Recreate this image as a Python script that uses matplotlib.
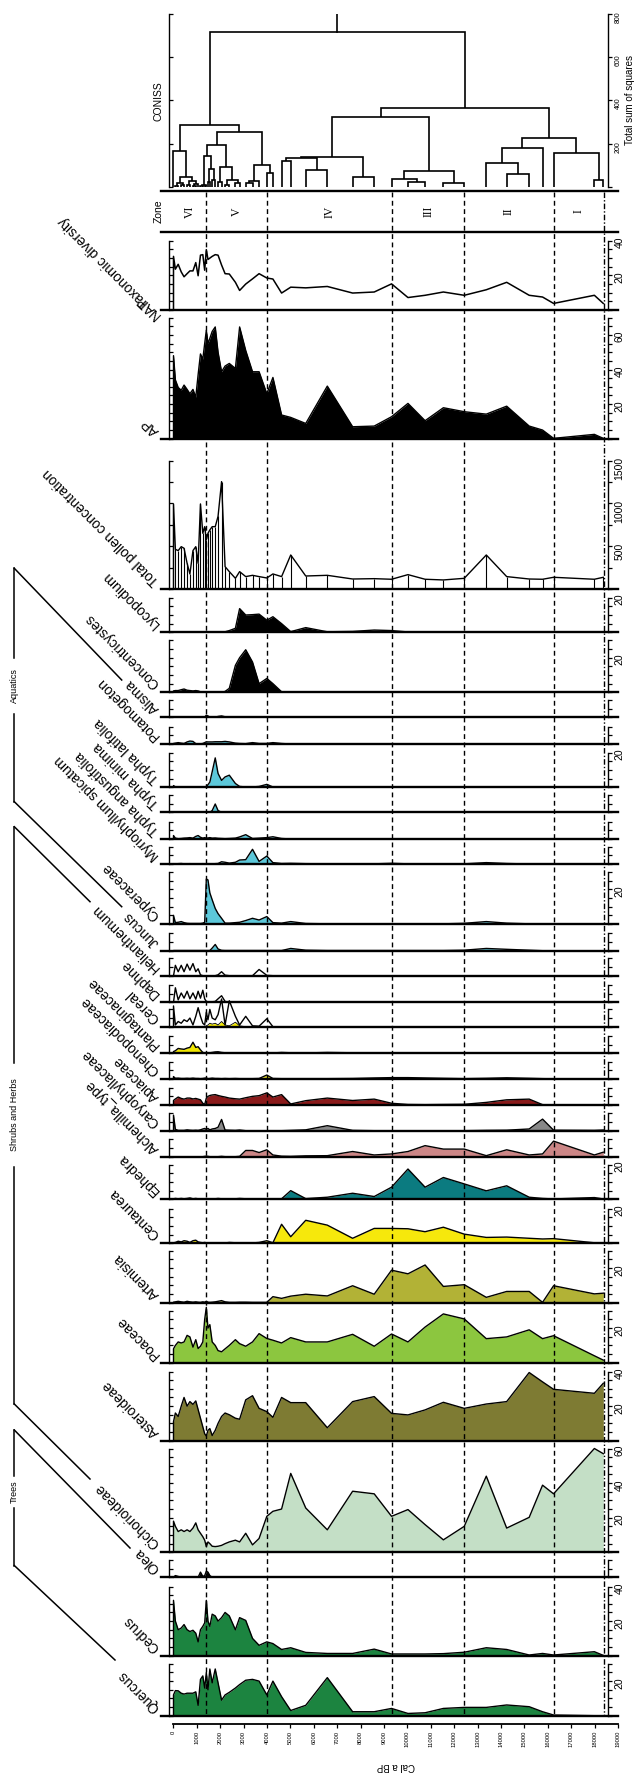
import matplotlib
matplotlib.use("Agg")
import matplotlib.pyplot as plt
from matplotlib.ticker import MultipleLocator, FixedLocator

plt.rcParams['font.family'] = ['Liberation Sans', 'DejaVu Sans']

# ---------------- data ----------------
ages = [0, 80, 200, 330, 450, 580, 700, 830, 950, 1050, 1150, 1250, 1330, 1400, 1470, 1550,
        1650, 1780, 1900, 2050, 2200, 2380, 2640, 2820, 3080, 3370, 3650, 3980, 4240, 4610,
        5000, 5640, 6560, 7640, 8560, 9300, 10000, 10730, 11510, 12400, 13340, 14210, 15170,
        15740, 16210, 17950, 18330]

quercus = [12, 14.5, 14.4, 13, 12.5, 13, 13, 13, 13.8, 6, 21, 23, 16, 25, 15, 27, 19, 27, 19, 9,
           12, 13.5, 16, 18, 20.5, 21, 20, 12, 20, 11, 3, 6, 22, 2.3, 2.3, 4.2, 1.3, 1.7, 4.2, 4.8,
           4.8, 6.2, 5.2, 2.3, 0.4, 0, 0]
cedrus = [32, 20, 15, 16, 18, 15, 14, 14.7, 13, 8, 15, 17, 19, 32, 20, 17, 24, 23, 20, 22,
          25, 23, 15, 22, 20.4, 10, 6, 8, 7, 3.6, 4.6, 1.9, 1.3, 1.3, 3.8, 1, 1, 1, 1.2, 2,
          4.6, 3.6, 0.4, 1.3, 0.4, 2.3, 0.2]
olea = [0, 1, 0.5, 0, 0, 0, 0, 0, 0, 0, 3, 0.5, 1, 3.5, 3, 1, 0, 0, 0, 0,
        0, 0, 0, 0, 0, 0, 0, 0, 0, 0, 0, 0, 0, 0, 0, 0, 0, 0, 0, 0,
        0, 0, 0, 0, 0, 0, 0]
cichorioideae = [18, 15, 12, 13, 12, 13, 12, 14, 17, 13, 11, 9, 7, 3.3, 6, 5, 3.5, 3.3, 3.5, 4,
                 5, 6, 7, 6, 11, 4.3, 8, 20.8, 23.7, 25, 45.6, 25.6, 13, 35.3, 33.8, 20.8, 24.7, 16, 7.2, 15,
                 44, 14, 20.2, 38.8, 33.8, 60, 57]
asteroideae = [11, 16, 14, 20, 25, 20, 22.6, 21, 23, 18, 13, 8, 4, 2.7, 6, 7, 3, 6, 10, 14,
               16, 15, 13, 12.4, 23.6, 26, 18.7, 16.8, 13.5, 25, 22, 22, 7.5, 22.6, 25.5, 15.8, 14.9, 17.8, 22.2, 18.7,
               21.2, 22.6, 39.4, 34, 29.7, 27.4, 33.2]
poaceae = [8, 10, 12, 11.4, 12, 15.8, 14.9, 9, 13.3, 8.2, 9.5, 12, 25, 32, 20, 22, 12, 10, 7, 6.3,
           8, 10, 13.3, 11, 9.5, 12, 16.8, 14, 13, 11.4, 14.5, 12, 12, 16.4, 9.5, 16.6, 12, 20.6, 28.2, 25.3,
           13.9, 14.9, 19, 13.9, 15.6, 4, 1.5]
artemisia = [0.3, 0.5, 0.8, 0.5, 0.3, 0.8, 0.5, 0.3, 0.5, 0.3, 0.2, 0.5, 0.3, 0.8, 0.3, 0.2, 0.3, 0.5, 0.8, 1.2,
             0.5, 0.2, 0.2, 0.3, 0.3, 0.2, 0.2, 0.2, 3.5, 2.5, 3.8, 4.9, 3.9, 9.8, 4.9, 18.8, 16.7, 21.8, 9.4, 10.4,
             3.1, 6.5, 6.5, 0.2, 9.8, 5.1, 5.5]
centaurea = [0.3, 0.5, 1.2, 0.8, 1.5, 1.2, 0.5, 1.5, 1.8, 0.8, 0.5, 0.3, 0.5, 0.3, 0.3, 0.2, 0.2, 0.3, 0.2, 0.3,
             0.2, 0.5, 0.3, 0.2, 0.2, 0.2, 0.5, 1.5, 0.3, 11, 3.8, 13.3, 10.5, 2.9, 8.6, 8.6, 8.4, 6.7, 9.3, 5.3,
             3.4, 3.6, 2.9, 2.5, 2.7, 0.3, 0]
ephedra = [0.3, 0.5, 0.3, 0.5, 0.3, 0.5, 0.8, 0.3, 0.5, 0.3, 0.2, 0.3, 0.2, 0.5, 0.3, 0.2, 0.3, 0.3, 0.5, 0.3,
           0.2, 0.3, 0.3, 0.5, 0.3, 0.2, 0.3, 0.3, 0.2, 0.3, 5, 0.4, 1.2, 3.5, 1.6, 7, 17.5, 7, 12.6, 8.9,
           4.9, 7.8, 1.2, 0.5, 0.2, 1, 0.2]
alchemilla = [0, 0, 0, 0, 0, 0, 0, 0, 0, 0, 0, 0, 0.2, 0.3, 0.2, 0, 0, 0, 0, 0.2,
              0, 0, 0, 0.2, 3.6, 3.6, 2.4, 4, 1, 0.3, 0.2, 0.5, 0.6, 3, 1, 1.6, 3, 6.4, 4.4, 4.4,
              0.6, 4, 1, 1.6, 9, 1, 2.6]
caryophyllaceae = [9, 0.8, 0.2, 0.2, 0.2, 0.5, 0.3, 0.2, 0.3, 0.2, 0.5, 1, 1.3, 0.8, 1.3, 0.5, 1, 1.3, 2, 6.5,
                   0.4, 0.3, 0.2, 0.4, 0, 0, 0, 0, 0, 0, 0.2, 0.5, 2.9, 0.2, 0, 0, 0, 0, 0, 0,
                   0.2, 0.3, 1, 6.7, 0.3, 0.2, 0.4]
apiaceae = [2.6, 3.5, 4.6, 3.8, 3.4, 4, 4, 3.5, 3.8, 3.4, 3, 1, 0.3, 4, 5, 5.5, 5.8, 6, 5.5, 5,
            4.6, 4, 3.6, 3.4, 4.2, 5, 5.4, 7, 4.6, 6, 0.6, 2.5, 4, 2.6, 3.4, 1, 0.3, 0.2, 0.3, 0.4,
            1.5, 3, 3.4, 0.2, 0, 0, 0.2]
chenopodiaceae = [1.4, 0.4, 0.5, 0.3, 0.3, 0.4, 0.3, 0.5, 0.3, 0.3, 0.2, 0.3, 0.5, 0.6, 0.2, 0.3, 0.5, 0.3, 0.3, 0.2,
                  0.3, 0.2, 0.3, 0.2, 0.2, 0.2, 0.3, 2.3, 0.3, 0.2, 0.2, 0.2, 0.2, 0.3, 0.6, 0.8, 0.8, 0.6, 0.4, 0.2,
                  0.4, 0.7, 0.4, 0.2, 0.1, 0.1, 0.1]
plantaginaceae = [1, 1.5, 2.8, 2.5, 2.3, 3, 3.4, 6.4, 3.4, 3.8, 2, 0.5, 0.2, 0.2, 0.3, 0.3, 0.5, 0.8, 0.9, 0.5,
                  0.3, 0.2, 0.2, 0.2, 0.2, 0.1, 0.1, 0.1, 0.2, 0.5, 0.3, 0.2, 0.5, 0.3, 0.2, 0.1, 0.1, 0.1, 0.1, 0.1,
                  0.1, 0.1, 0.1, 0.1, 0.1, 0.1, 0.1]
cereal = [12, 1, 3, 2, 4, 3, 5, 1, 6, 11, 6, 2, 1, 8.4, 4, 10, 5, 4, 7, 16,
          1, 15, 6, 1, 6, 0.5, 0.3, 4.6, 0, 0, 0, 0, 0, 0, 0, 0, 0, 0, 0, 0,
          0, 0, 0, 0, 0, 0, 0]
cereal_yellow = [0, 0, 0, 0, 0, 0, 0, 0, 0, 0, 0, 0, 0, 0.5, 1, 2, 1.5, 2, 1, 3,
                 1, 0.5, 2.6, 0.5, 0, 0, 0, 0, 0, 0, 0, 0, 0, 0, 0, 0, 0, 0, 0, 0,
                 0, 0, 0, 0, 0, 0, 0]
daphne = [0, 8.4, 1.4, 5.4, 2.4, 6.4, 2, 5.4, 1.8, 6.4, 2.4, 7, 2, 0.5, 0.3, 0.2, 0.3, 0.5, 2, 3.8,
          0.5, 0, 0, 0, 0, 0, 0, 0, 0, 0, 0, 0, 0, 0, 0, 0, 0, 0, 0, 0,
          0, 0, 0, 0, 0, 0, 0]
helianthemum = [0, 6, 2.3, 6, 2.3, 6.7, 3.2, 7, 2.3, 4, 0.5, 0, 0, 0, 0, 0, 0, 0, 0.5, 2.3,
                0.3, 0, 0, 0, 0, 0, 3.6, 0.2, 0, 0, 0, 0, 0, 0, 0, 0, 0, 0, 0, 0,
                0, 0, 0, 0, 0, 0, 0]
juncus = [0.1, 0.1, 0.1, 0.1, 0.1, 0.1, 0.1, 0.1, 0.1, 0.1, 0.1, 0.1, 0.1, 0.1, 0.1, 0.1, 1.5, 3.6, 1, 0.2,
          0.1, 0.1, 0.1, 0.1, 0.1, 0.1, 0.1, 0.1, 0.1, 0.1, 1.3, 0.3, 0.1, 0.1, 0.1, 0.1, 0.1, 0.1, 0.1, 0.3,
          1.3, 0.8, 0.3, 0, 0, 0, 0]
cyperaceae = [5, 0.8, 1, 1.4, 0.8, 0.4, 0.3, 0.3, 0.3, 0.3, 0.3, 0.5, 1, 26, 25.5, 18, 14, 9, 6, 3.3,
              0.5, 0.5, 0.8, 1, 2, 3.3, 2.3, 4.3, 0.8, 0.5, 1.4, 0.3, 0.1, 0.1, 0.1, 0.1, 0.1, 0.1, 0.1, 0.4,
              1.4, 0.5, 0.1, 0.1, 0.1, 0.1, 0.1]
myriophyllum = [0.2, 0.1, 0.2, 0.3, 0.1, 0.1, 0.2, 0.1, 0.1, 0.1, 0.1, 0.2, 0.1, 0.1, 0.2, 0.1, 0.1, 0.2, 0.3, 1.3,
                1, 0.5, 1, 2.3, 2.5, 8.5, 1.5, 4.6, 0.8, 0.3, 0.4, 0.2, 0.1, 0.1, 0.1, 0.4, 0.1, 0.1, 0.1, 0.1,
                0.8, 0.3, 0, 0, 0, 0, 0]
typha_angustifolia = [2, 0.5, 0.2, 0.3, 0.5, 0.6, 0.8, 0.5, 1.5, 2, 1, 0.5, 0.8, 0.5, 0.6, 0.8, 0.5, 0.6, 0.4, 0.3,
                      0.2, 0.3, 0.5, 1.2, 2.5, 0.3, 0.5, 0.8, 1.3, 0.3, 0, 0, 0, 0, 0, 0, 0, 0, 0, 0,
                      0, 0, 0, 0, 0, 0, 0]
typha_minima = [0, 0, 0, 0, 0, 0, 0, 0, 0, 0, 0, 0, 0, 0, 0, 0, 1, 4.8, 1, 0,
                0, 0, 0, 0, 0, 0, 0, 0, 0, 0, 0, 0, 0, 0, 0, 0, 0, 0, 0, 0,
                0, 0, 0, 0, 0, 0, 0]
typha_latifolia = [1, 0.2, 0.1, 0.1, 0.1, 0.1, 0.1, 0.1, 0.1, 0.1, 0.1, 0.1, 0.2, 0.5, 1.5, 3, 9, 17, 8, 4,
                   6, 7, 2.2, 0.5, 0.2, 0.2, 0.5, 1.7, 0.2, 0, 0, 0, 0, 0, 0, 0, 0, 0, 0, 0,
                   0, 0, 0, 0, 0, 0, 0]
potamogeton = [0.3, 0.5, 0.8, 0.5, 0.3, 1.2, 1.7, 1.5, 0.2, 0.1, 0.1, 0.3, 0.8, 1.3, 1.2, 1.2, 1.2, 1.3, 1.3, 1.3,
               1.5, 1.2, 0.5, 0.3, 0.2, 0.8, 0.3, 0.3, 0.8, 0.3, 0, 0, 0, 0, 0, 0, 0, 0, 0, 0,
               0, 0, 0, 0, 0, 0, 0]
alisma = [0, 0, 0, 0, 0, 0, 0, 0, 0, 0, 0, 0, 0, 1.3, 0.8, 0, 0, 0, 0.5, 0.8,
          0.3, 0, 0, 0, 0, 0, 0, 0, 0, 0, 0, 0, 0, 0, 0, 0, 0, 0, 0, 0,
          0, 0, 0, 0, 0, 0, 0]
concentricystes = [0.8, 1, 1, 1.5, 1.9, 1.2, 1, 0.8, 1, 0.8, 0.3, 0, 0, 0, 0, 0, 0, 0, 0, 0,
                   0.5, 2.3, 15.6, 20, 24.6, 17.5, 5, 8, 5, 0.3, 0, 0, 0, 0, 0, 0, 0, 0, 0, 0,
                   0, 0, 0, 0, 0, 0, 0]
lycopodium = [0, 0, 0, 0, 0, 0, 0, 0, 0, 0, 0, 0, 0, 0, 0, 0, 0, 0, 0, 0,
              0.3, 1, 2.3, 13.7, 10, 10.2, 10.5, 7, 9, 5, 0.4, 2.7, 0.3, 0.5, 1.3, 1, 0.2, 0, 0, 0,
              0, 0, 0, 0, 0, 0, 0]
total_pollen = [995, 466, 451, 497, 478, 303, 179, 451, 497, 303, 995, 653, 730, 575, 653, 692, 730, 730, 850, 1255,
                264, 206, 128, 206, 148, 163, 148, 132, 179, 148, 400, 155, 163, 120, 124, 117, 171, 117, 109, 128,
                400, 148, 120, 117, 140, 117, 140]
ap = [48, 34, 29.6, 28, 31, 28.5, 26, 28.5, 24, 37, 49, 46, 55, 62.7, 55, 58, 62, 64.6, 50, 38.7,
      42, 43.5, 40.6, 64.6, 51, 38.7, 38.7, 26, 35.4, 13.7, 12.3, 8.8, 30.4, 6.9, 7.3, 12.7, 20.4, 10.4, 17.9, 15.6,
      14.2, 18.8, 7.3, 5, 0.2, 2.5, 0.2]
diversity = [31, 23.6, 26.4, 22, 19.2, 21, 22.6, 22.6, 27.4, 19.8, 31.7, 32, 23, 34.9, 29.2, 30, 31, 32, 31.7, 26,
             21, 20.8, 16, 11.3, 15, 18, 21, 18.5, 17.9, 9.8, 13.2, 12.8, 13.6, 9.8, 10.4, 15.1, 7.2, 8.5, 10.4, 8.5,
             11.7, 16, 8.5, 7.5, 3.8, 8.5, 3.8]

zone_bounds = [1392, 3985, 9309, 12406, 16217, 18340]
zone_names = ['VI', 'V', 'IV', 'III', 'II', 'I']
zone_label_ages = [700, 2690, 6650, 10860, 14310, 17280]

# CONISS merges: (child a, child b, total sum of squares); leaves 0..46, new nodes from 47
coniss_merges = [
    (1, 2, 5), (3, 4, 8), (47, 48, 15), (5, 6, 10), (7, 8, 5), (51, 9, 12), (50, 52, 25),
    (49, 53, 46), (0, 54, 167), (10, 11, 5), (12, 13, 5), (56, 57, 10), (14, 15, 20),
    (16, 17, 30), (59, 60, 80), (58, 61, 144), (18, 19, 20), (20, 21, 10), (22, 23, 15),
    (64, 65, 30), (63, 66, 90), (62, 67, 191), (24, 25, 15), (69, 26, 25), (27, 28, 62),
    (70, 71, 100), (68, 72, 255), (55, 73, 286), (29, 30, 120), (31, 32, 77), (75, 76, 131),
    (33, 34, 46), (77, 78, 136), (36, 37, 20), (35, 80, 37), (38, 39, 18), (81, 82, 71),
    (79, 83, 324), (45, 46, 31), (44, 85, 154), (41, 42, 59), (40, 87, 111), (88, 43, 178),
    (89, 86, 224), (84, 90, 363), (74, 91, 715),
]

# ---------------- layout ----------------
W, H = 639, 1775
fig = plt.figure(figsize=(W / 100, H / 100), dpi=100)

PX0 = 173.5       # pixel column of age 0
PXY = 0.023447    # pixels per year


def age_at(px):
    return (px - PX0) / PXY


PL, PR = 161.0, 618.0
XLIM = (age_at(PL), age_at(PR))
LAX = age_at(169.4)
RAX = age_at(608.2)
SC = 1.73   # pixels per percent

GREEN = '#1c8440'
CYAN = '#5cc8da'

# (label, values, fill colour, ymax, baseline px)
panels = [
    ('Quercus', quercus, GREEN, 30, 1715.7),
    ('Cedrus', cedrus, GREEN, 40, 1655.7),
    ('Olea', olea, 'black', 10, 1577.3),
    ('Cichorioideae', cichorioideae, '#c4dfc6', 60, 1552.3),
    ('Asteroideae', asteroideae, '#7e7b33', 40, 1440.7),
    ('Poaceae', poaceae, '#8cc63f', 30, 1362.7),
    ('Artemisia', artemisia, '#b2b236', 30, 1302.7),
    ('Centaurea', centaurea, '#f6e80c', 20, 1243.3),
    ('Ephedra', ephedra, '#0b7b80', 20, 1199.3),
    ('Alchemilla_type', alchemilla, '#cc8686', 10, 1156.7),
    ('Caryophyllaceae', caryophyllaceae, '#888888', 10, 1130.7),
    ('Apiaceae', apiaceae, '#8a1a1a', 10, 1105.0),
    ('Chenopodiaceae', chenopodiaceae, '#e8e020', 10, 1079.0),
    ('Plantaginaceae', plantaginaceae, '#f0e600', 10, 1053.3),
    ('Cereal', cereal, None, 10, 1026.7),
    ('Daphne', daphne, None, 10, 1002.3),
    ('Helianthemum', helianthemum, None, 10, 975.7),
    ('Juncus', juncus, CYAN, 10, 950.7),
    ('Cyperaceae', cyperaceae, CYAN, 30, 924.0),
    ('Myriophyllum spicatum', myriophyllum, CYAN, 10, 864.0),
    ('Typha angustifolia', typha_angustifolia, CYAN, 10, 839.0),
    ('Typha minima', typha_minima, CYAN, 10, 812.3),
    ('Typha latifolia', typha_latifolia, CYAN, 20, 787.3),
    ('Potamogeton', potamogeton, CYAN, 10, 744.0),
    ('Alisma', alisma, 'black', 10, 717.3),
    ('Concentricystes', concentricystes, 'black', 30, 692.3),
    ('Lycopodium', lycopodium, 'black', 20, 632.3),
]


def add_axes_px(top, bottom, left=PL, right=PR):
    return fig.add_axes([left / W, 1 - bottom / H, (right - left) / W, (bottom - top) / H])


def px_text(x, y, s, **kw):
    return fig.text(x / W, 1 - y / H, s, **kw)


def make_panel(base, ymax, height, step, labels, lsize=7.5, bottom=True):
    ax = add_axes_px(base - height, base)
    ax.set_xlim(*XLIM)
    ax.set_ylim(0, ymax)
    ax.patch.set_alpha(0)
    for s in ('top', 'right'):
        ax.spines[s].set_visible(False)
    ax.spines['bottom'].set_visible(bottom)
    ax.spines['bottom'].set_linewidth(1.7)
    ax.spines['left'].set_position(('data', LAX))
    ax.spines['left'].set_bounds(0, ymax)
    ax.spines['left'].set_linewidth(1.0)
    ax.set_xticks([])
    ax.yaxis.set_major_locator(MultipleLocator(step))
    ax.tick_params(axis='y', direction='in', length=3, width=0.9, labelleft=False)
    ax2 = ax.twinx()
    ax2.set_ylim(0, ymax)
    for s in ('top', 'left', 'bottom'):
        ax2.spines[s].set_visible(False)
    ax2.spines['right'].set_position(('data', RAX))
    ax2.spines['right'].set_bounds(0, ymax)
    ax2.spines['right'].set_linewidth(1.0)
    ax2.yaxis.set_major_locator(FixedLocator(labels))
    ax2.yaxis.set_minor_locator(MultipleLocator(step))
    ax2.tick_params(axis='y', which='both', direction='out', length=3, width=0.9,
                    labelsize=lsize, pad=1.5, labelrotation=90)
    return ax


def taxon_label(name, base):
    px_text(160, base - 9, name, rotation=135, rotation_mode='anchor',
            ha='left', va='baseline', fontsize=10)


# percentage panels
for name, vals, col, ymax, base in panels:
    labs = [v for v in (20, 40, 60) if v <= ymax]
    ax = make_panel(base, ymax, ymax * SC, 5, labs)
    xs = [0] + ages
    ys = [0] + vals
    if col is not None:
        ax.fill_between(ages, vals, color=col, lw=0, clip_on=False, zorder=2)
    if name == 'Cereal':
        ax.fill_between(ages, cereal_yellow, color='#f0e600', lw=0, clip_on=False, zorder=2)
        ax.plot(xs, [0] + cereal_yellow, color='k', lw=0.6, clip_on=False, zorder=3)
    ax.plot(xs, ys, color='k', lw=1.0, clip_on=False, zorder=3)
    taxon_label(name, base)

# total pollen concentration
tp_base = 589.3
ax = make_panel(tp_base, 1500, 128.7, 250, [500, 1000, 1500])
ax.vlines(ages, 0, total_pollen, color='k', lw=0.8, zorder=2)
ax.plot([0] + ages, [0] + total_pollen, color='k', lw=1.0, zorder=3, clip_on=False)
taxon_label('Total pollen concentration', tp_base)

# AP
ap_base = 438.7
ax = make_panel(ap_base, 70, 70 * SC, 5, [20, 40, 60])
ax.fill_between(ages, ap, color='black', lw=0)
ax.plot([0] + ages, [0] + ap, color='k', lw=1.0)
taxon_label('AP', ap_base)

# taxonomic diversity
dv_base = 310.0
ax = make_panel(dv_base, 40, 40 * SC, 5, [20, 40])
ax.plot([0] + ages, [0] + diversity, color='k', lw=1.1, clip_on=False)
px_text(161, dv_base + 4, 'NAP', rotation=135, rotation_mode='anchor', ha='left',
        va='baseline', fontsize=10)
px_text(150, dv_base - 8, 'Taxonomic diversity', rotation=135, rotation_mode='anchor',
        ha='left', va='baseline', fontsize=10)

# zone band
zax = add_axes_px(190.7, 232.3)
zax.set_xlim(*XLIM)
zax.set_ylim(0, 1)
zax.patch.set_alpha(0)
for s in ('left', 'right'):
    zax.spines[s].set_visible(False)
for s in ('top', 'bottom'):
    zax.spines[s].set_linewidth(1.7)
zax.set_xticks([])
zax.set_yticks([])
for a, nm in zip(zone_label_ages, zone_names):
    zax.text(a, 0.5, nm, rotation=90, ha='center', va='center', fontsize=8.5,
             family=['Liberation Serif', 'DejaVu Serif'])
px_text(159, 211.5, 'Zone', rotation=90, ha='center', va='center', fontsize=7.5)

# CONISS
cax = make_panel(186.7, 800, 172.7, 200, [200, 400, 600, 800], lsize=5, bottom=False)
pos = {i: a for i, a in enumerate(ages)}
hgt = {i: 0.0 for i in range(len(ages))}
nid = len(ages)
for a, b, h in coniss_merges:
    xa, xb = pos[a], pos[b]
    cax.plot([xa, xa, xb, xb], [hgt[a], h, h, hgt[b]], color='k', lw=1.2,
             solid_joinstyle='miter', solid_capstyle='butt')
    pos[nid] = (xa + xb) / 2
    hgt[nid] = h
    nid += 1
root = nid - 1
cax.plot([pos[root], pos[root]], [hgt[root], 800], color='k', lw=1.2)
px_text(159, 101, 'CONISS', rotation=90, ha='center', va='center', fontsize=7.5)
px_text(630, 100, 'Total sum of squares', rotation=90, ha='center', va='center', fontsize=7)

# age axis
aax = add_axes_px(1700, 1724)
aax.set_xlim(*XLIM)
aax.patch.set_alpha(0)
for s in ('left', 'right', 'top'):
    aax.spines[s].set_visible(False)
aax.spines['bottom'].set_bounds(0, 19000)
aax.spines['bottom'].set_linewidth(1.3)
aax.set_yticks([])
aax.set_xticks(range(0, 19001, 1000))
aax.tick_params(axis='x', direction='out', length=3, width=0.9, labelsize=4.2,
                labelrotation=90, pad=2)
px_text(PX0 + 9500 * PXY, 1766, 'Cal a BP', rotation=180, ha='center', va='center', fontsize=7)

# overlays: zone boundaries and group brackets
ov = fig.add_axes([0, 0, 1, 1])
ov.set_xlim(age_at(0), age_at(W))
ov.set_ylim(H, 0)
ov.axis('off')
ov.vlines(zone_bounds[:-1], 192, 1716, colors='k', lw=1.0, linestyles=(0, (3.5, 2.5)))
ov.vlines(zone_bounds[-1:], 192, 1716, colors='k', lw=1.0, linestyles=(0, (4, 1.5, 1, 1.5)))

bx = fig.add_axes([0, 0, 1, 1])
bx.set_xlim(0, W)
bx.set_ylim(H, 0)
bx.axis('off')
BXX = 14.3
groups = [
    ('Aquatics', 568.3, 801.7, 686, 28, (121.7, 680), (121.7, 906.7)),
    ('Shrubs and Herbs', 826.7, 1404, 1115, 52, (90, 901.7), (90, 1479)),
    ('Trees', 1430, 1565.5, 1492, 16, (130, 1548), (115, 1660)),
]
for gname, y0, y1, yc, half, e0, e1 in groups:
    bx.plot([BXX, BXX], [y0, yc - half], color='k', lw=1.1)
    bx.plot([BXX, BXX], [yc + half, y1], color='k', lw=1.1)
    bx.plot([BXX, e0[0]], [y0, e0[1]], color='k', lw=1.1)
    bx.plot([BXX, e1[0]], [y1, e1[1]], color='k', lw=1.1)
    bx.text(BXX, yc, gname, rotation=90, ha='center', va='center', fontsize=6.5)

fig.savefig('out.png', dpi=100)
